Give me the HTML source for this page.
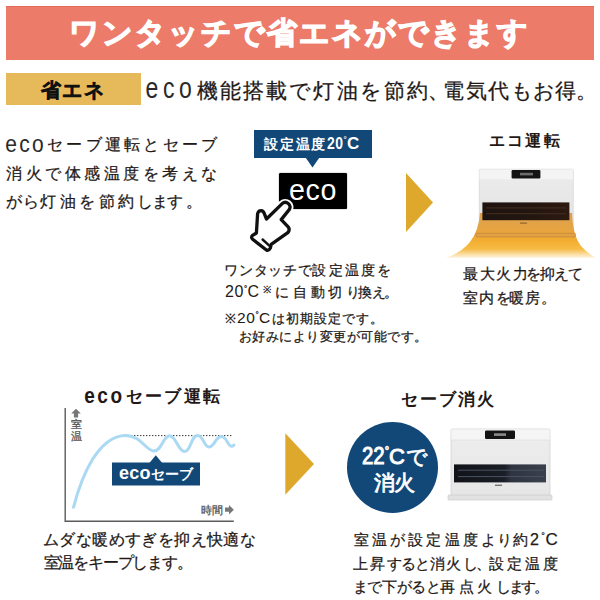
<!DOCTYPE html>
<html><head><meta charset="utf-8">
<style>
html,body{margin:0;padding:0;background:#fff;width:600px;height:600px;overflow:hidden;position:relative;font-family:"Liberation Sans",sans-serif;color:#231815;}
.a{position:absolute;white-space:nowrap;line-height:1;}
.b{font-weight:bold;}
.t{-webkit-text-stroke:0.25px currentColor;}
svg{position:absolute;left:0;top:0;}
</style></head><body>
<!-- header -->
<div class="a" style="left:6px;top:6px;width:588px;height:54px;background:#ec7b69;box-shadow:inset 0 1px 0 #e46b57;"></div>
<div class="a b" style="left:68.7px;top:18px;font-size:30px;letter-spacing:2.0px;color:#fff;-webkit-text-stroke:1.3px #fff;">ワンタッチで省エネができます</div>
<div class="a" style="left:6px;top:73px;width:135px;height:31.5px;background:#e6ba5b;"></div>
<div class="a b" style="left:40.5px;top:79.5px;font-size:20px;letter-spacing:1.5px;color:#111;-webkit-text-stroke:0.5px #111;">省エネ</div>
<div class="a" style="left:145.6px;top:78.5px;font-size:23px;letter-spacing:4.6px;color:#2a2a2a;transform:scaleY(1.3);transform-origin:0 19.5px;">eco</div>
<div class="a t" style="left:197px;top:79.7px;font-size:21px;letter-spacing:2.1px;">機能搭載で灯油を節<span style="letter-spacing:0">約</span><span style="letter-spacing:-6px">、</span><span style="letter-spacing:1.6px">電気代</span><span style="letter-spacing:0.2px">もお得。</span></div>

<!-- left paragraph -->
<div class="a" style="left:5.2px;top:134.4px;font-size:21px;letter-spacing:2.3px;color:#2a2a2a;transform:scaleY(1.15);transform-origin:0 17.8px;">eco</div>
<div class="a t" style="left:47px;top:136.5px;font-size:16px;letter-spacing:3.3px;">セーブ運転とセーブ</div>
<div class="a t" style="left:6.2px;top:166px;font-size:16px;letter-spacing:3.5px;">消火で体感温度を考えな</div>
<div class="a t" style="left:6px;top:194.2px;font-size:16px;letter-spacing:3.4px;"><span style="letter-spacing:1.2px">がら</span>灯油を節約<span style="letter-spacing:-1.2px">しま</span>す。</div>

<!-- blue label + eco button -->
<div class="a" style="left:253.5px;top:130px;width:118.5px;height:27.7px;background:#124878;"></div>
<div class="a b" style="left:264.2px;top:137px;font-size:14px;letter-spacing:1.7px;color:#fff;">設定温度<span style="font-size:17px;letter-spacing:0.5px;line-height:0;display:inline-block;transform:scaleX(0.82);transform-origin:0 0;margin-right:-3.5px">20</span><span style="font-size:8px;vertical-align:7px;line-height:0;letter-spacing:0.3px">°</span><span style="font-size:17px;line-height:0;letter-spacing:0">C</span></div>
<div class="a" style="left:279.2px;top:172.8px;width:67.4px;height:36.4px;background:#000;border-radius:1.5px;box-shadow:0 0 1px #000;"></div>
<div class="a" style="left:289.3px;top:177.5px;font-size:26px;letter-spacing:0.6px;color:#fff;transform:scale(1.1,1.1);transform-origin:0 22px;">eco</div>

<svg width="600" height="600" viewBox="0 0 600 600">
  <polygon points="305.2,157 319.8,157 312.5,167.6" fill="#124878"/>
  <!-- arrows -->
  <polygon points="406,173 406,232 433,202.5" fill="#dea82c"/>
  <polygon points="285.3,433.3 285.3,494.7 314,464" fill="#dea82c"/>
  <!-- hand -->
  <g stroke-linejoin="round" stroke-linecap="round">
    <path d="M266.5,219 L282.2,203.6 A4.7,4.7 0 0 1 289.4,209.4 L281.2,219.6 L288.4,227.2 Q290.2,229.8 287.8,232.6 L271.2,244.4 L270.4,248 Q268.6,251.2 266.4,250 L252.6,239.2 Q250.6,237 252.6,235.4 L256.4,233 L257.6,213.6 Q258.4,210.6 261,210.6 Q263.6,210.8 264.2,213.4 Z" fill="#fff" stroke="#fff" stroke-width="7"/>
    <path d="M266.5,219 L282.2,203.6 A4.7,4.7 0 0 1 289.4,209.4 L281.2,219.6 L288.4,227.2 Q290.2,229.8 287.8,232.6 L271.2,244.4 L270.4,248 Q268.6,251.2 266.4,250 L252.6,239.2 Q250.6,237 252.6,235.4 L256.4,233 L257.6,213.6 Q258.4,210.6 261,210.6 Q263.6,210.8 264.2,213.4 Z" fill="#fff" stroke="#111" stroke-width="3.3"/>
    <path d="M262.6,239.5 L269.3,245.7" stroke="#111" stroke-width="2.4" fill="none"/>
  </g>
</svg>

<!-- center texts -->
<div class="a t" style="left:224.2px;top:262.9px;font-size:14px;letter-spacing:0.7px;">ワンタッチで<span style="letter-spacing:2.2px">設定温度を</span></div>
<div class="a t" style="left:225px;top:284.5px;font-size:14px;letter-spacing:1px;"><span style="font-size:16px;letter-spacing:0.6px;line-height:0;-webkit-text-stroke:0">20</span><span style="font-size:8px;vertical-align:6.5px;line-height:0;letter-spacing:0.3px">°</span><span style="font-size:16px;letter-spacing:0;line-height:0;-webkit-text-stroke:0">C</span><span style="font-size:10px;vertical-align:4px;margin:0 3px 0 4px;">※</span><span style="letter-spacing:3.8px">に自動切</span><span style="letter-spacing:-2.5px">り</span><span style="letter-spacing:0">換</span><span style="letter-spacing:-1.8px">え</span>。</div>
<div class="a t" style="left:225px;top:311.5px;font-size:13px;letter-spacing:1px;">※<span style="font-size:15.5px;letter-spacing:0.6px;line-height:0;-webkit-text-stroke:0">20</span><span style="font-size:8px;vertical-align:6px;line-height:0;letter-spacing:0.3px">°</span><span style="font-size:15.5px;letter-spacing:2px;line-height:0;-webkit-text-stroke:0">C</span>は初期設定です。</div>
<div class="a t" style="left:238.5px;top:329.5px;font-size:13px;letter-spacing:0.5px;">お好みにより変更が可能です。</div>

<!-- eco運転 -->
<div class="a b" style="left:488.5px;top:133.3px;font-size:15.5px;letter-spacing:2.4px;">エコ運転</div>
<svg width="600" height="600" viewBox="0 0 600 600">
  <defs>
    <linearGradient id="glow" x1="0" y1="0" x2="0" y2="1">
      <stop offset="0" stop-color="#dca052"/>
      <stop offset="0.45" stop-color="#e9a53c"/>
      <stop offset="0.62" stop-color="#f3ae30"/>
      <stop offset="0.8" stop-color="#f6bb45"/>
      <stop offset="1" stop-color="#fff6e6"/>
    </linearGradient>
    <linearGradient id="body1" x1="0" y1="0" x2="0" y2="1">
      <stop offset="0" stop-color="#ececec"/>
      <stop offset="1" stop-color="#e2e2e2"/>
    </linearGradient>
    <linearGradient id="grill1" x1="0" y1="0" x2="1" y2="0">
      <stop offset="0" stop-color="#1e1410"/>
      <stop offset="0.6" stop-color="#24160f"/>
      <stop offset="1" stop-color="#2d1a10"/>
    </linearGradient>
  </defs>
  <rect x="479.3" y="169.2" width="94" height="66" rx="1" fill="url(#body1)" stroke="#d4d4d4" stroke-width="0.7"/>
  <rect x="479.6" y="169.5" width="93.4" height="9.8" fill="#f4f4f4"/>
  <rect x="511.6" y="170" width="28.8" height="8.4" rx="1.2" fill="#151515"/>
  <rect x="520" y="172.8" width="13" height="2.6" fill="#6d6d6d"/>
  <path d="M480,213 L572,213 Q573,236 581,246 Q587,253 596,258 L446,258 Q462,252 470,242 Q479,230 480,213 Z" fill="url(#glow)"/>
  <rect x="482.4" y="202.4" width="87" height="17.8" fill="url(#grill1)"/>
  <path d="M486,207.8 H566 M486,213.6 H566" stroke="#3e2a1c" stroke-width="1.3"/>
  <rect x="520" y="222.5" width="7" height="1.3" fill="#9a6a30"/>
  <rect x="476" y="233.3" width="99.4" height="3.6" rx="1" fill="#e2a243" stroke="#b98037" stroke-width="0.6"/>
</svg>
<div class="a t" style="left:463.3px;top:266.2px;font-size:15px;letter-spacing:1.6px;">最大火<span style="letter-spacing:-1.8px">力</span><span style="letter-spacing:-1.2px">を抑えて</span></div>
<div class="a t" style="left:463.3px;top:289.8px;font-size:15px;letter-spacing:1.2px;">室内<span style="letter-spacing:-1.6px">を</span><span style="letter-spacing:0.8px">暖房</span>。</div>

<!-- bottom left: chart -->
<div class="a b" style="left:84.3px;top:386.5px;font-size:19px;letter-spacing:2.5px;transform:scaleY(1.2);transform-origin:0 16px;">eco</div>
<div class="a b" style="left:125.5px;top:387.8px;font-size:17px;letter-spacing:2.4px;">セーブ運転</div>
<svg width="600" height="600" viewBox="0 0 600 600">
  <path d="M65.2,408 V521.3 H233.8" stroke="#5a5a5a" stroke-width="1.4" fill="none"/>
  <polygon points="76,408.8 71.2,413.6 73.9,413.6 73.9,417.6 78.1,417.6 78.1,413.6 80.8,413.6" fill="#777"/>
  <polygon points="233.8,509.7 229,505 229,507.6 225,507.6 225,511.8 229,511.8 229,514.4" fill="#777"/>
  <line x1="131" y1="435.6" x2="231.5" y2="435.6" stroke="#333" stroke-width="1" stroke-dasharray="1.4,1.6"/>
  <path d="M73.5,507.3 C82,475 98,437 124.6,435.4 C141,435 146,451 153.75,451 C162,451 163,435.75 169.6,435.75 C176,435.75 178,451.5 184.5,451.5 C191,451.5 191,435.4 197.6,435.4 C203.5,435.4 204,447 209,447 C214.5,447 215.5,436.6 221.3,436.6 C227,436.6 227.5,446.25 231.75,446.25 C233,446.25 233.8,445.4 234,445" stroke="#aad9f3" stroke-width="3" fill="none" stroke-linecap="round"/>
  <rect x="112" y="462.5" width="88" height="23" fill="#124878"/>
  <polygon points="149.4,463 162.2,463 155.8,455.3" fill="#124878"/>
</svg>
<div class="a" style="left:70.8px;top:419px;font-size:10.5px;line-height:11.6px;color:#555;-webkit-text-stroke:0.3px #555;">室<br>温</div>
<div class="a" style="left:200.5px;top:504.5px;font-size:10.5px;letter-spacing:0.3px;color:#555;-webkit-text-stroke:0.3px #555;">時間</div>
<div class="a b" style="left:119px;top:467.3px;font-size:14px;color:#fff;"><span style="font-size:18px;letter-spacing:0.3px;line-height:0;">eco</span>セーブ</div>
<div class="a t" style="left:43px;top:532.4px;font-size:15.5px;letter-spacing:0.4px;">ムダな暖めすぎを抑え快適な</div>
<div class="a t" style="left:43.5px;top:554.5px;font-size:15.5px;letter-spacing:-1.2px;">室温をキープします。</div>

<!-- bottom right -->
<div class="a b" style="left:400.5px;top:391px;font-size:17px;letter-spacing:2px;">セーブ消火</div>
<svg width="600" height="600" viewBox="0 0 600 600">
  <circle cx="392.5" cy="467.5" r="45.5" fill="#124878"/>
  <defs>
    <linearGradient id="body2" x1="0" y1="0" x2="0" y2="1">
      <stop offset="0" stop-color="#eeeeee"/>
      <stop offset="1" stop-color="#e6e6e6"/>
    </linearGradient>
    <linearGradient id="grill2" x1="0" y1="0" x2="1" y2="0">
      <stop offset="0" stop-color="#111318"/>
      <stop offset="0.55" stop-color="#1a1e26"/>
      <stop offset="0.62" stop-color="#2e3440"/>
      <stop offset="1" stop-color="#3a404c"/>
    </linearGradient>
  </defs>
  <rect x="451" y="429" width="99" height="67" rx="1.2" fill="url(#body2)" stroke="#cfcfcf" stroke-width="0.7"/>
  <rect x="451.4" y="429.4" width="98.2" height="10.6" fill="#f5f5f5"/>
  <line x1="451.4" y1="440" x2="549.6" y2="440" stroke="#dcdcdc" stroke-width="0.6"/>
  <rect x="485" y="430.4" width="30" height="8.6" rx="1.2" fill="#141414"/>
  <rect x="494" y="433.3" width="12" height="2.6" fill="#8a8a8a"/>
  <rect x="454" y="464.4" width="92" height="18" fill="url(#grill2)"/>
  <path d="M458,470.2 H544 M458,476.6 H544" stroke="#4a5262" stroke-width="1"/>
  <rect x="495" y="484.6" width="7" height="1.4" fill="#777"/>
  <rect x="448" y="495" width="104" height="5" rx="1" fill="#e2e2e2" stroke="#c8c8c8" stroke-width="0.6"/>
</svg>
<div class="a" style="left:362px;top:446px;font-size:21px;letter-spacing:-0.4px;color:#fff;-webkit-text-stroke:0.7px #fff;"><span style="font-size:24px;letter-spacing:0;line-height:0;display:inline-block;transform:scaleX(0.85);transform-origin:0 0;margin-right:-4px;-webkit-text-stroke:1px #fff">22</span><span style="font-size:11px;vertical-align:10px;line-height:0;letter-spacing:0">°</span><span style="font-size:22px;line-height:0;letter-spacing:0;-webkit-text-stroke:1px #fff;margin-right:1px">C</span>で</div>
<div class="a" style="left:373.5px;top:471.5px;font-size:21px;letter-spacing:-0.3px;color:#fff;-webkit-text-stroke:0.8px #fff;">消火</div>
<div class="a t" style="left:353.6px;top:533.3px;font-size:14.6px;letter-spacing:3.2px;">室温が設定温度<span style="letter-spacing:1px">より</span><span style="letter-spacing:2px">約</span><span style="font-size:16px;letter-spacing:2.4px;line-height:0">2</span><span style="font-size:9px;vertical-align:6px;line-height:0;letter-spacing:0.5px">°</span><span style="font-size:17px;line-height:0;letter-spacing:0">C</span></div>
<div class="a t" style="left:352.8px;top:556.6px;font-size:14.6px;letter-spacing:1.9px;">上昇<span style="letter-spacing:-0.6px">すると</span><span style="letter-spacing:1.4px">消火</span><span style="letter-spacing:-1.6px">し、</span><span style="font-size:14.8px;letter-spacing:3px">設定温度</span></div>
<div class="a t" style="left:352.8px;top:579.6px;font-size:14.6px;letter-spacing:-0.4px;">まで下がると<span style="letter-spacing:3.4px">再点火</span><span style="letter-spacing:-2.1px">します</span>。</div>
</body></html>
